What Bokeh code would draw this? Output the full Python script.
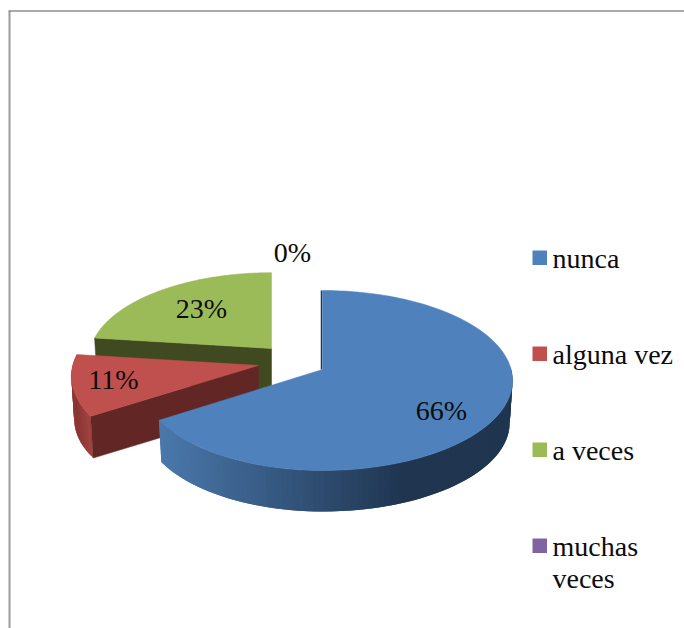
import numpy as np
from bokeh.plotting import figure
from bokeh.models import Range1d
from bokeh.core.properties import value
from bokeh.embed import file_html
from bokeh.resources import INLINE

# Data
categories = ["nunca", "alguna vez", "a veces", "muchas veces"]
shares = [66, 11, 23, 0]
legend_lines = [["nunca"], ["alguna vez"], ["a veces"], ["muchas", "veces"]]
top_colors = ["#4f81bd", "#c0504d", "#9bbb59", "#8064a2"]
wall_colors = ["#1f3550", "#622725", "#3f4a20", "#3f3251"]

FONT = value("Liberation Serif")
TEXT = "#0c0c0c"

p = figure(width=684, height=628, output_backend="svg", toolbar_location=None,
           x_range=Range1d(0, 684), y_range=Range1d(628, 0), min_border=0,
           outline_line_color=None, background_fill_color="white",
           border_fill_color="white")
p.axis.visible = False
p.grid.visible = False

# perspective projection of the pie disc
C, A, S = 0.1222, 88.66, 188.6
DEPTH, BOTTOM = 42.5, 0.985


def proj(theta, scale=1.0, left=1.0):
    """theta in degrees, clockwise from 12 o'clock; returns offsets from the apex."""
    t = np.radians(theta)
    X, Y = np.sin(t), -np.cos(t)
    d = 1 - C * Y
    k = np.where(X < 0, left, 1.0)
    return scale * k * S * X / d, scale * A * Y / d


def shade(c0, c1, f):
    a = np.array([int(c0[i:i + 2], 16) for i in (1, 3, 5)], float)
    b = np.array([int(c1[i:i + 2], 16) for i in (1, 3, 5)], float)
    r = a + (b - a) * min(max(f, 0), 1)
    return "#%02x%02x%02x" % tuple(int(round(v)) for v in r)


def rim(ax, ay, t0, t1, color_fn, scale=1.0, left=1.0):
    step = 1.5
    xs, ys, cs = [], [], []
    grid = np.arange(t0, t1 + 1e-6, step)
    if grid[-1] < t1:
        grid = np.append(grid, t1)
    for a, b in zip(grid[:-1], grid[1:]):
        # each piece overlaps the next one, so that no seam shows between them
        e = min(b + step, t1)
        xa, ya = proj(a, scale, left)
        xb, yb = proj(e, scale, left)
        xc, yc = proj(e, scale * BOTTOM, left)
        xd, yd = proj(a, scale * BOTTOM, left)
        xs.append([ax + xa, ax + xb, ax + xc, ax + xd])
        ys.append([ay + ya, ay + yb, ay + yc + DEPTH, ay + yd + DEPTH])
        mx, _ = proj((a + b) / 2, scale, left)
        cs.append(color_fn(ax + float(mx)))
    p.patches(xs, ys, fill_color=cs, line_color=None)


def top_face(ax, ay, t0, t1, color, scale=1.0, left=1.0):
    th = np.linspace(t0, t1, 160)
    x, y = proj(th, scale, left)
    p.patch(np.r_[ax, ax + x], np.r_[ay, ay + y], fill_color=color,
            line_color=color, line_width=0.5)


def wall(ax, ay, t, color, scale=1.0, left=1.0):
    x, y = proj(t, scale, left)
    xb, yb = proj(t, scale * BOTTOM, left)
    p.patch([ax, ax + x, ax + xb, ax],
            [ay, ay + y, ay + yb + DEPTH, ay + DEPTH],
            fill_color=color, line_color=color, line_width=0.5)


total = sum(shares)
edges = np.r_[0, np.cumsum(shares)] / total * 360

# frame
p.line([9, 9], [10.5, 628], line_color="#9a9a9a", line_width=2)
p.line([8, 684], [10.5, 10.5], line_color="#8c8c8c", line_width=1.5)

# a veces (furthest back)
gx, gy, gs = 271, 348, 0.96
wall(gx, gy, edges[2], wall_colors[2], gs)
top_face(gx, gy, edges[2], edges[3], top_colors[2], gs)

# alguna vez
rx, ry, rl = 258, 365, 0.985
rim(rx, ry, edges[1], edges[2],
    lambda x: shade("#8a3634", "#ab4745", (x - 75) / 20), left=rl)
wall(rx, ry, edges[1], wall_colors[1], left=rl)
top_face(rx, ry, edges[1], edges[2], top_colors[1], left=rl)

# nunca (front)
bx, by, bl = 322, 369, 0.96
rim(bx, by, 88, edges[1],
    lambda x: shade("#4a78ab", "#1f3550", (x - 160) / 245), left=bl)
xs0, ys0 = proj(edges[0])
p.line([bx - 1, bx - 1 + float(xs0)], [by, by + float(ys0)],
       line_color=wall_colors[0], line_width=1.5)
top_face(bx, by, edges[0], edges[1], top_colors[0], left=bl)

# data labels
label_x = [441, 113, 201, 292]
label_y = [409.5, 378.5, 307.5, 251.5]
p.text(label_x, label_y, text=[f"{v}%" for v in shares], text_font=FONT,
       text_font_size="28px", text_color=TEXT, text_align="center",
       text_baseline="alphabetic")

# legend
leg_x, leg_top, leg_step, box = 532, 250, 96, 14.5
for i, lines in enumerate(legend_lines):
    y0 = leg_top + i * leg_step
    p.quad(left=[leg_x], right=[leg_x + box], top=[y0], bottom=[y0 + box],
           fill_color=top_colors[i], line_color=None)
    p.text([552] * len(lines), [y0 + 7.5 + j * 32.5 for j in range(len(lines))], text=lines,
           text_font=FONT, text_font_size="28px", text_color=TEXT,
           text_align="left", text_baseline="alphabetic")

open("out.html", "w").write(file_html(p, INLINE))
